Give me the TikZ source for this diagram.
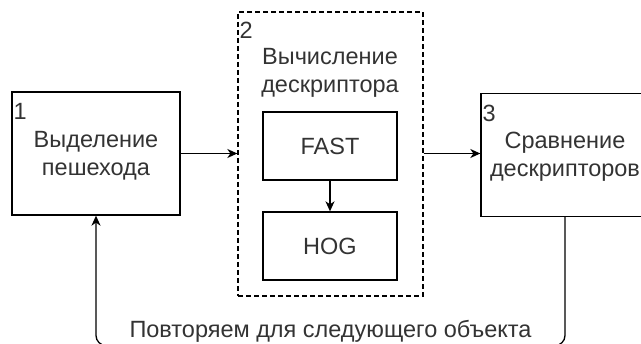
\documentclass[tikz,border=0pt]{standalone}
\usepackage{fontspec}
\setmainfont{Liberation Sans}
\usetikzlibrary{arrows.meta,positioning}
\begin{document}
\begin{tikzpicture}[x=1pt,y=-1pt,
	box/.style={draw,line width=1.3pt,minimum width=168pt,minimum height=123pt},
	inbox/.style={draw,line width=1.3pt,minimum width=134pt,minimum height=68pt},
	txt/.style={text=black!80,align=center,font=\fontsize{23.5}{28}\selectfont},
	num/.style={txt,anchor=north west,inner sep=0pt},
	arr/.style={line width=1.3pt,-{Stealth[length=10pt,width=9pt,inset=3pt]}}]
	\useasboundingbox (0,0) rectangle (641,344);
	% blocks
	\node [box] (b1) at (96,153.5) {};
	\node [box,dash pattern=on 5pt off 3pt,minimum width=185pt,minimum height=284pt] (b2) at (330.5,154) {};
	\node [box] (b3) at (565,155) {};
	\node [inbox] (fast) at (330,146) {};
	\node [inbox] (hog) at (330,246) {};
	% texts
	\node [num] (n1) at ([shift={(2,12)}]b1.north west) {1};
	\node [num] (n2) at ([shift={(2,11)}]b2.north west) {2};
	\node [num] (n3) at ([shift={(2,12)}]b3.north west) {3};
	\node [txt] (t1) at (96,156) {Выделение\\пешехода};
	\node [txt] (t2) at (330,73) {Вычисление\\дескриптора};
	\node [txt] (t3) at (565,157) {Сравнение\\дескрипторов};
	\node [txt] (tf) at (fast) {FAST};
	\node [txt] (th) at (hog) {HOG};
	% arrows
	\draw [arr] (b1.east) -- (b2.west |- b1.east);
	\draw [arr] (b2.east |- b1.east) -- (b3.west |- b1.east);
	\draw [arr] (fast) -- (hog);
	\draw [arr,rounded corners=10pt] (b3.south) -- (565,345.5) -- (96,345.5)
		node [txt,midway,fill=white,inner sep=2pt,yshift=14pt] (loop) {Повторяем для следующего объекта}
		-- (b1.south);
\end{tikzpicture}
\end{document}
